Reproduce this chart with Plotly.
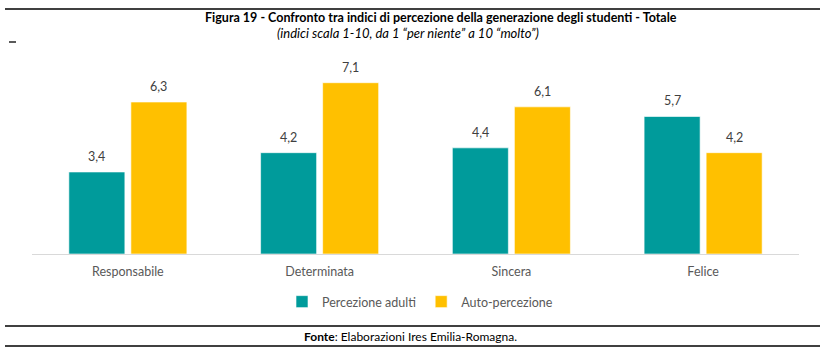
import plotly.graph_objects as go

categories = ["Responsabile", "Determinata", "Sincera", "Felice"]
adulti = [3.4, 4.2, 4.4, 5.7]
auto = [6.3, 7.1, 6.1, 4.2]
series_names = ["Percezione adulti", "Auto-percezione"]
title = "Figura 19 - Confronto tra indici di percezione della generazione degli studenti - Totale"
subtitle = "(indici scala 1-10, da 1 “per niente” a 10 “molto”)"
source = "<b>Fonte</b>: Elaborazioni Ires Emilia-Romagna."

W, H = 820, 352
L, R, T, B = 32, 21, 61, 98
pw, ph = W - L - R, H - T - B

def px(x):
    return (x - L) / pw

def py(y):
    return (H - B - y) / ph

FONT = "Lato"
fmt = lambda v: f"{v:.1f}".replace(".", ",")
colors = ["#009B9B", "#FFC000"]

fig = go.Figure()
for name, vals, col in [(series_names[0], adulti, colors[0]), (series_names[1], auto, colors[1])]:
    fig.add_trace(go.Bar(
        x=categories, y=vals, name=name,
        marker=dict(color=col, line=dict(color="rgba(255,255,255,0.6)", width=1)),
        cliponaxis=False,
    ))

# data labels as annotations (offset above bars)
for vals, shift in [(adulti, -31), (auto, 31)]:
    for c, v in zip(categories, vals):
        fig.add_annotation(x=c, y=v, xref="x", yref="y", text=fmt(v),
                           showarrow=False, xshift=shift, yshift=6,
                           xanchor="center", yanchor="bottom",
                           font=dict(family=FONT, size=12.5, color="#404040"))

fig.update_layout(
    width=W, height=H, margin=dict(l=L, r=R, t=T, b=B),
    paper_bgcolor="white", plot_bgcolor="white",
    barmode="group", bargap=0.353, bargroupgap=0.097,
    font=dict(family=FONT, size=12, color="#595959"),
    showlegend=True,
    legend=dict(orientation="h", x=px(420), xanchor="center", y=py(302), yanchor="middle",
                font=dict(family=FONT, size=12.5, color="#595959"), itemwidth=30,
                traceorder="normal"),
    xaxis=dict(showline=True, linecolor="#D9D9D9", linewidth=1, ticks="",
               ticklabelstandoff=6,
               tickfont=dict(family=FONT, size=12.5, color="#595959")),
    yaxis=dict(range=[0, 8], visible=False, showgrid=False, zeroline=False),
)

shapes = []
for yy in [9, 326, 346]:
    shapes.append(dict(type="line", xref="paper", yref="paper",
                       x0=px(5), x1=px(820), y0=py(yy), y1=py(yy),
                       line=dict(color="black", width=1.3)))
shapes.append(dict(type="line", xref="paper", yref="paper",
                   x0=px(9), x1=px(16), y0=py(42), y1=py(42),
                   line=dict(color="black", width=1.3)))
fig.update_layout(shapes=shapes)

fig.add_annotation(text=f"<b>{title}</b>", xref="paper", yref="paper",
                   x=px(441), y=py(17), xanchor="center", yanchor="middle",
                   showarrow=False, font=dict(family=FONT, size=12.5, color="black"))
fig.add_annotation(text=f"<i>{subtitle}</i>", xref="paper", yref="paper",
                   x=px(408), y=py(33), xanchor="center", yanchor="middle",
                   showarrow=False, font=dict(family=FONT, size=13, color="black"))
fig.add_annotation(text=source, xref="paper", yref="paper",
                   x=px(410), y=py(336), xanchor="center", yanchor="middle",
                   showarrow=False, font=dict(family=FONT, size=12, color="black"))

fig.write_html("out.html")
